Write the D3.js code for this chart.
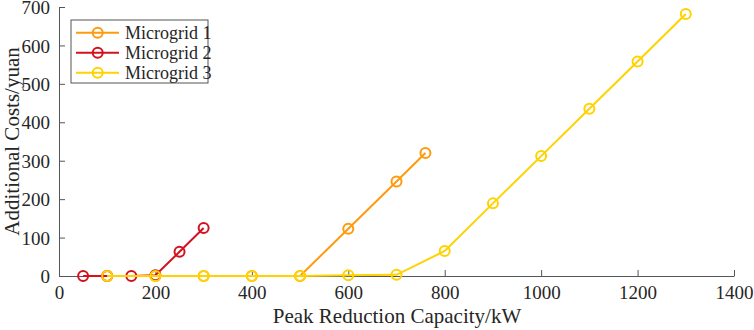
<!DOCTYPE html>
<html><head><meta charset="utf-8">
<script src="https://cdn.jsdelivr.net/npm/d3@7"></script>
<style>body{margin:0;background:#fff}svg{display:block}svg text{font-family:"Liberation Serif",serif !important}</style>
</head><body><svg id="c" width="754" height="330"></svg>
<script>
const seriesNames = ["Microgrid 1", "Microgrid 2", "Microgrid 3"];
const seriesColors = ["#FF9A0E", "#D3121E", "#FFD200"];
const mg1X = [100, 200, 300, 400, 500, 600, 700, 760];
const mg1Y = [0, 0, 0, 0, 0, 123, 246, 320];
const mg2X = [50, 100, 150, 200, 250, 300];
const mg2Y = [0, 0, 0, 2, 63, 125];
const mg3X = [100, 200, 300, 400, 500, 600, 700, 800, 900, 1000, 1100, 1200, 1300];
const mg3Y = [0, 0, 0, 0, 0, 2, 3, 65, 189, 312, 435, 558, 682];
const xTicks = [0, 200, 400, 600, 800, 1000, 1200, 1400];
const yTicks = [0, 100, 200, 300, 400, 500, 600, 700];

const svg = d3.select("#c");
const x = d3.scaleLinear().domain([0, 1400]).range([59, 734]);
const y = d3.scaleLinear().domain([0, 700]).range([276, 7]);
const axisColor = "#555";
const ff = "'Liberation Serif', serif";

const xa = svg.append("g").attr("transform", `translate(0,${y(0)})`)
  .call(d3.axisBottom(x).tickValues(xTicks).tickFormat(d3.format("d")).tickSizeInner(-6).tickSizeOuter(0).tickPadding(10));
const ya = svg.append("g").attr("transform", `translate(${x(0)},0)`)
  .call(d3.axisLeft(y).tickValues(yTicks).tickFormat(d3.format("d")).tickSizeInner(-6).tickSizeOuter(0).tickPadding(9));
[xa, ya].forEach(a => {
  a.attr("font-family", ff);
  a.select(".domain").attr("stroke", axisColor).attr("stroke-width", 1);
  a.selectAll(".tick line").attr("stroke", axisColor);
  a.selectAll(".tick text").attr("fill", "#262626").attr("font-size", 19);
});
ya.selectAll(".tick text").attr("dy", "0.35em");

svg.append("text").attr("x", 397).attr("y", 323).attr("text-anchor", "middle").attr("font-family", ff)
  .attr("font-size", 21).attr("fill", "#262626").text("Peak Reduction Capacity/kW");
svg.append("text").attr("transform", `translate(19,${(y(0)+y(700))/2}) rotate(-90)`).attr("text-anchor", "middle").attr("font-family", ff)
  .attr("font-size", 21).attr("fill", "#262626").text("Additional Costs/yuan");

const series = [
  {name: seriesNames[0], color: seriesColors[0], xs: mg1X, ys: mg1Y},
  {name: seriesNames[1], color: seriesColors[1], xs: mg2X, ys: mg2Y},
  {name: seriesNames[2], color: seriesColors[2], xs: mg3X, ys: mg3Y}
];
const line = d3.line().x(d => x(d[0])).y(d => y(d[1]));
series.forEach(s => {
  const pts = s.xs.map((v, i) => [v, s.ys[i]]);
  const g = svg.append("g");
  g.append("path").datum(pts).attr("d", line).attr("fill", "none").attr("stroke", s.color).attr("stroke-width", 2);
  g.selectAll("circle").data(pts).join("circle").attr("cx", d => x(d[0])).attr("cy", d => y(d[1]))
    .attr("r", 5).attr("fill", "none").attr("stroke", s.color).attr("stroke-width", 2);
});

// legend
const lg = svg.append("g").attr("transform", "translate(71,20)");
lg.append("rect").attr("width", 137).attr("height", 63).attr("fill", "#fff").attr("stroke", axisColor).attr("stroke-width", 1);
series.forEach((s, i) => {
  const yy = 12.7 + i * 20;
  lg.append("line").attr("x1", 5).attr("x2", 48).attr("y1", yy).attr("y2", yy).attr("stroke", s.color).attr("stroke-width", 2);
  lg.append("circle").attr("cx", 26.7).attr("cy", yy).attr("r", 5).attr("fill", "none").attr("stroke", s.color).attr("stroke-width", 2);
  lg.append("text").attr("x", 54).attr("y", yy + 6).attr("font-family", ff).attr("font-size", 18).attr("fill", "#262626").text(s.name);
});
</script></body></html>
